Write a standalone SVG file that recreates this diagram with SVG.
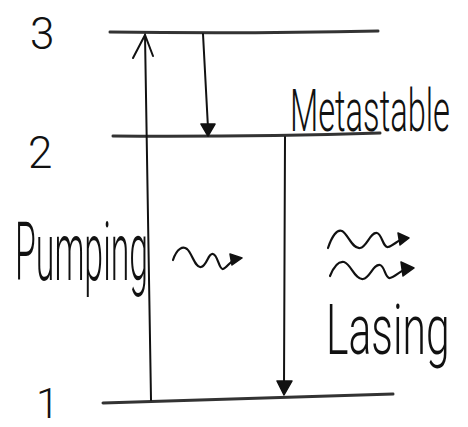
<svg xmlns="http://www.w3.org/2000/svg" width="468" height="427" viewBox="0 0 468 427">
  <style>
    .level { fill: none; stroke: #333; stroke-width: 3; stroke-linecap: round; }
    .arrow { fill: none; stroke: #111; stroke-width: 2; stroke-linecap: round; }
    .wave { fill: none; stroke: #111; stroke-width: 2.2; stroke-linecap: round; stroke-linejoin: round; }
    .head { fill: #111; stroke: #111; stroke-width: 1.5; stroke-linejoin: round; }
    .hand { font-family: Roboto, "Liberation Sans", Arial, sans-serif; fill: #111; font-weight: 300; }
  </style>
  <rect width="468" height="427" fill="#fff"/>

  <!-- energy levels -->
  <g id="level-3">
    <path class="level" d="M110,32 Q240,34 378,31"/>
    <text class="hand" x="30" y="49" font-size="44">3</text>
  </g>
  <g id="level-2">
    <path class="level" d="M113,136 Q250,137 380,133"/>
    <text class="hand" x="28" y="168" font-size="44">2</text>
  </g>
  <g id="level-1">
    <path class="level" d="M103,403 Q250,399 393,394"/>
    <text class="hand" x="36" y="418" font-size="42">1</text>
  </g>

  <!-- labels, narrowed horizontally like the hand lettering -->
  <g id="label-metastable">
    <text class="hand" transform="translate(290,131) scale(0.535,1)" x="0" y="0" font-size="60" textLength="299" lengthAdjust="spacingAndGlyphs">Metastable</text>
  </g>
  <g id="label-pumping">
    <text class="hand" transform="translate(15,280) scale(0.407,1)" x="0" y="0" font-size="82" textLength="327" lengthAdjust="spacingAndGlyphs">Pumping</text>
  </g>
  <g id="label-lasing">
    <text class="hand" transform="translate(326,354) scale(0.6,1)" x="0" y="0" font-size="70" textLength="206" lengthAdjust="spacingAndGlyphs">Lasing</text>
  </g>

  <!-- transitions -->
  <g id="connectors">
    <!-- pumping 1 -> 3 -->
    <path class="arrow" d="M151,400 Q148,220 145,35"/>
    <path class="arrow" d="M133,58 L145,35 L153,56"/>
    <!-- decay 3 -> 2 -->
    <path class="arrow" d="M203,34 L208,128"/>
    <path class="head" d="M201,124 L215,124 L208,136 Z"/>
    <!-- lasing 2 -> 1 -->
    <path class="arrow" d="M285,137 Q284,270 284,386"/>
    <path class="head" d="M277,381 L292,381 L284,395 Z"/>

    <!-- photons -->
    <path class="wave" d="M173,260 C177,248 183,246 187,249 C192,253 195,268 201,267 C207,266 208,253 213,254 C218,255 219,270 223,269 C227,268 230,261 236,259"/>
    <path class="head" d="M230,254 L242,258 L232,265 Z"/>
    <path class="wave" d="M328,248 C332,236 337,229 342,231 C348,234 352,249 360,248 C367,247 370,232 377,233 C382,234 383,248 388,247 C393,246 398,240 403,239"/>
    <path class="head" d="M398,233 L409,238 L400,245 Z"/>
    <path class="wave" d="M330,276 C334,266 339,261 344,262 C351,264 355,280 363,279 C370,278 373,264 380,265 C385,266 385,279 390,278 C395,277 401,270 407,269"/>
    <path class="head" d="M401,262 L414,268 L403,276 Z"/>
  </g>
</svg>
